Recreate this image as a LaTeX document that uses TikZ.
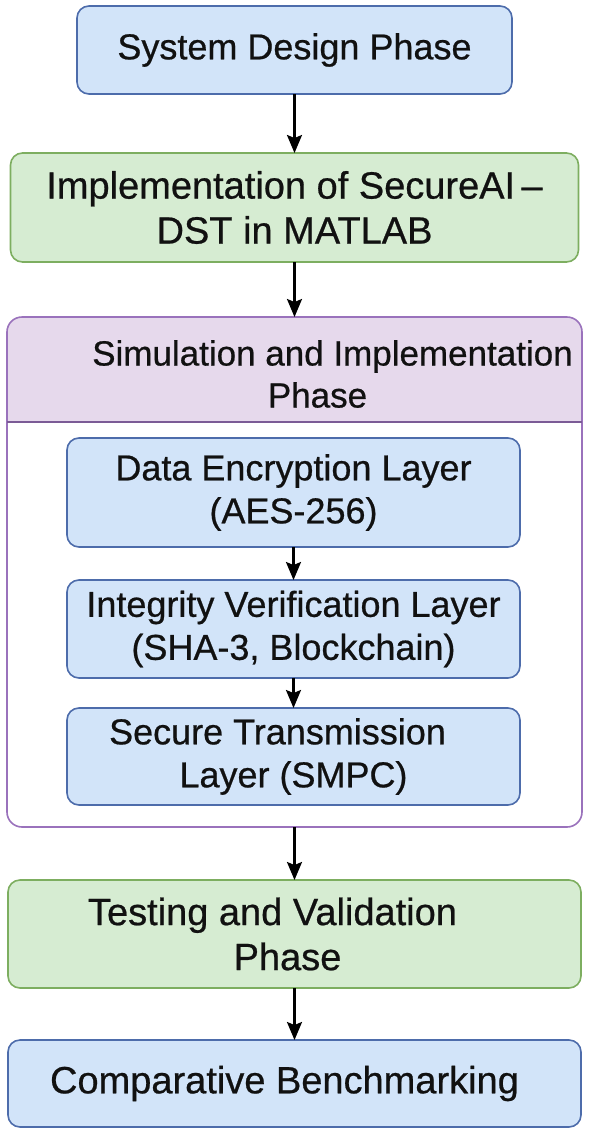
\documentclass[tikz,border=0pt]{standalone}
\usepackage{fontspec}
\setmainfont{Liberation Sans}
\newfontfamily\heavyfont{Liberation Sans}[FakeBold=0.6]
\usetikzlibrary{arrows.meta,calc}
\definecolor{bluefill}{HTML}{D2E4F9}
\definecolor{blueline}{HTML}{4D6CAB}
\definecolor{greenfill}{HTML}{D6ECD2}
\definecolor{greenline}{HTML}{7DAE60}
\definecolor{purplefill}{HTML}{E6D9EC}
\definecolor{purpleline}{HTML}{9A72BC}
\definecolor{txt}{HTML}{111111}
\begin{document}
\begin{tikzpicture}[x=1pt,y=1pt,
  box/.style={draw, rounded corners=12pt, line width=1.6pt, align=center,
    inner sep=0pt, outer sep=0pt, text=txt},
  fsmall/.style={font=\heavyfont\fontsize{36}{43}\selectfont},
  fbig/.style={font=\heavyfont\fontsize{38}{45}\selectfont},
  bluebox/.style={box, fill=bluefill, draw=blueline},
  greenbox/.style={box, fill=greenfill, draw=greenline},
  arr/.style={-{Stealth[length=18pt,width=15pt,inset=3pt]}, line width=2.2pt, black}]
\useasboundingbox (0,0) rectangle (590,-1136);
\fill[white] (0,0) rectangle (590,-1136);

% top boxes
\node[bluebox, fsmall, minimum width=435pt, minimum height=88pt] (b1) at (294.5,-50) {System Design Phase};
\node[greenbox, fbig, minimum width=568pt, minimum height=109pt] (b2) at (294.5,-207.5) {Implementation of SecureAI\,–\\DST in MATLAB};

% container
\node[draw=none, minimum width=575pt, minimum height=510pt, inner sep=0pt, outer sep=0pt] (sim) at (294.5,-572) {};
\begin{scope}
  \clip[rounded corners=15pt] (sim.north west) rectangle (sim.south east);
  \fill[purplefill] (sim.north west) rectangle ($(sim.north east)+(0,-105)$);
\end{scope}
\draw[purpleline, line width=1.6pt, rounded corners=15pt] (sim.north west) rectangle (sim.south east);
\draw[purpleline!80!black, line width=1.4pt] ($(sim.north west)+(0,-105)$) -- ($(sim.north east)+(0,-105)$);
\node[align=center, text=txt, font=\heavyfont\fontsize{35}{42}\selectfont, inner sep=0pt] (simt) at (294.5,-374)
  {\hspace*{76pt}Simulation and Implementation\\\hspace*{46pt}Phase};

% inner layers
\node[bluebox, fsmall, minimum width=453pt, minimum height=109pt] (de) at (293.5,-492.5) {Data Encryption Layer\\(AES-256)};
\node[bluebox, fsmall, minimum width=453pt, minimum height=98pt] (iv) at (293.5,-629) {Integrity Verification Layer\\(SHA-3, Blockchain)};
\node[bluebox, fsmall, minimum width=453pt, minimum height=97pt] (st) at (293.5,-756.5) {Secure Transmission\hspace*{32pt}\\Layer (SMPC)};

% bottom boxes
\node[greenbox, fbig, minimum width=573pt, minimum height=108pt] (tv) at (294.5,-934) {Testing and Validation\hspace*{44pt}\\Phase\hspace*{14pt}};
\node[bluebox, fbig, minimum width=573pt, minimum height=87pt] (cb) at (294.5,-1083.5) {Comparative Benchmarking\hspace*{20pt}};

% connectors
\draw[arr] (b1) -- (b2);
\draw[arr] (b2) -- (sim);
\draw[arr] (de) -- (iv);
\draw[arr] (iv) -- (st);
\draw[arr] (sim) -- (tv);
\draw[arr] (tv) -- (cb);
\end{tikzpicture}
\end{document}
